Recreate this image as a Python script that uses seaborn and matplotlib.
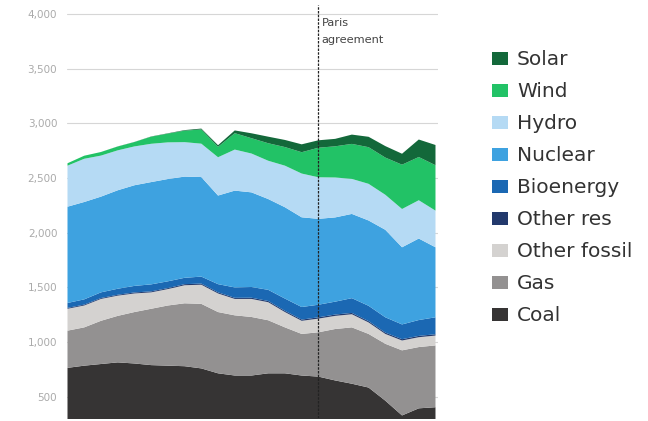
import matplotlib
matplotlib.use("Agg")
import matplotlib.pyplot as plt
from matplotlib.patches import Patch
import seaborn as sns
import pandas as pd

years = list(range(2000, 2023))
coal = [770, 790, 805, 820, 810, 795, 790, 785, 765, 720, 700, 700, 720, 720, 700, 690, 655, 625, 590, 470, 335, 400, 410]
gas = [340, 350, 395, 425, 470, 515, 550, 575, 590, 560, 550, 535, 485, 420, 380, 405, 470, 515, 490, 520, 595, 560, 565]
other_fossil = [200, 200, 200, 185, 170, 150, 150, 165, 175, 170, 150, 165, 165, 140, 120, 125, 120, 120, 105, 90, 90, 90, 90]
other_res = [8, 8, 8, 8, 9, 9, 9, 10, 10, 10, 10, 11, 11, 11, 11, 12, 12, 12, 12, 12, 12, 12, 12]
bioenergy = [45, 48, 52, 55, 60, 64, 62, 58, 64, 75, 95, 98, 102, 112, 115, 115, 118, 135, 140, 140, 135, 145, 155]
nuclear = [880, 890, 875, 900, 920, 935, 935, 925, 910, 810, 885, 865, 830, 835, 820, 785, 770, 770, 780, 800, 705, 745, 640]
hydro = [375, 395, 375, 365, 355, 350, 335, 315, 305, 350, 375, 355, 350, 380, 400, 380, 365, 320, 335, 320, 350, 350, 335]
wind = [22, 28, 33, 35, 40, 65, 80, 105, 130, 95, 150, 140, 160, 170, 195, 270, 285, 320, 335, 340, 405, 395, 415]
solar = [0, 0, 0, 1, 1, 2, 3, 5, 8, 15, 25, 45, 60, 65, 72, 68, 68, 85, 95, 105, 100, 160, 185]

sources = ["Coal", "Gas", "Other fossil", "Other res", "Bioenergy", "Nuclear", "Hydro", "Wind", "Solar"]
colors = {
    "Coal": "#363434",
    "Gas": "#939191",
    "Other fossil": "#d4d2d0",
    "Other res": "#22396c",
    "Bioenergy": "#1b68b3",
    "Nuclear": "#3ea2e0",
    "Hydro": "#b5daf4",
    "Wind": "#22c266",
    "Solar": "#13683a",
}
y_ticks = [500, 1000, 1500, 2000, 2500, 3000, 3500, 4000]
paris_year = 2015
paris_label = "Paris\nagreement"

df = pd.DataFrame({"year": years, "Coal": coal, "Gas": gas, "Other fossil": other_fossil,
                   "Other res": other_res, "Bioenergy": bioenergy, "Nuclear": nuclear,
                   "Hydro": hydro, "Wind": wind, "Solar": solar})

sns.set_theme(style="white")
plt.rcParams["font.family"] = ["DejaVu Sans"]

fig = plt.figure(figsize=(6.48, 4.21), dpi=100)
ax = fig.add_axes([67 / 648, 3 / 421, (438 - 67) / 648, 413 / 421])

ax.stackplot(df["year"], *[df[s] for s in sources],
             colors=[colors[s] for s in sources], linewidth=0, zorder=2)

ax.set_xlim(2000, 2022.18)
ax.set_ylim(307, 4082)
ax.set_yticks(y_ticks)
ax.set_yticklabels([f"{v:,}" for v in y_ticks], fontsize=7.5, color="#aaaaaa")
ax.tick_params(axis="y", length=0, pad=7)
ax.set_xticks([])
ax.grid(axis="y", color="#d6d6d6", linewidth=0.8, zorder=1)
ax.set_axisbelow(True)
for sp in ax.spines.values():
    sp.set_visible(False)

ax.axvline(paris_year, color="#222222", linewidth=0.9, linestyle=(0, (2, 1)), zorder=5)
ax.text(paris_year + 0.22, 3965, paris_label, fontsize=8.2, color="#444444",
        va="top", ha="left", linespacing=1.85)

handles = [Patch(facecolor=colors[s], edgecolor="none", label=s) for s in sources[::-1]]
fig.legend(handles=handles, loc="upper left", bbox_to_anchor=(0.743, 0.904),
           frameon=False, fontsize=14.5, handlelength=0.83, handleheight=0.66,
           handletextpad=0.43, labelspacing=0.645, borderpad=0, labelcolor="#333333")

fig.savefig("out.png", dpi=100, facecolor="white")
